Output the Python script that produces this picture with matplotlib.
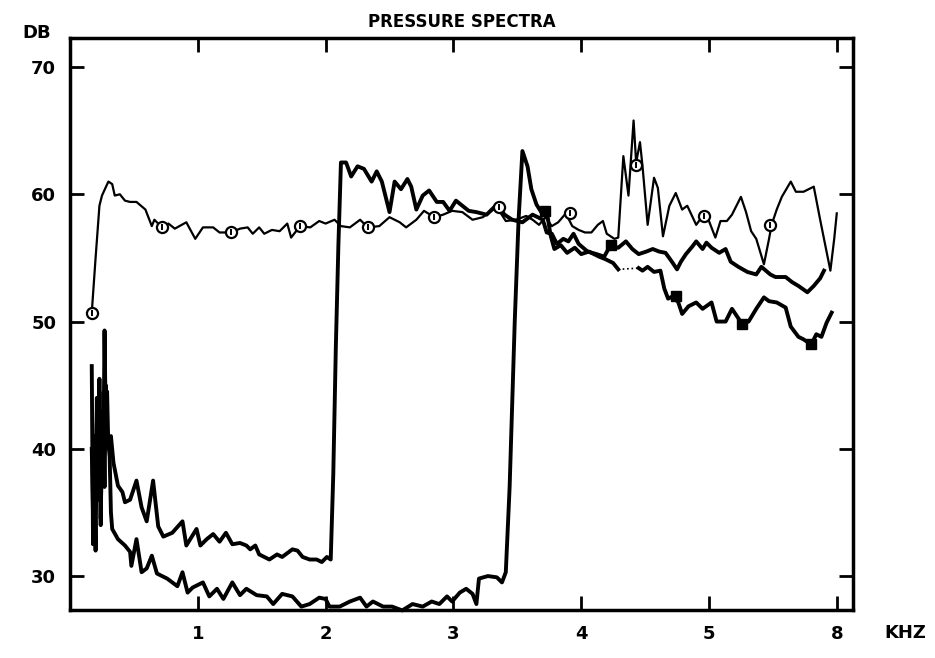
import matplotlib
matplotlib.use("Agg")
import matplotlib.pyplot as plt

# curva fina con circulos (espectro casi plano ~57 dB)
fina_x = [0.17, 0.20, 0.23, 0.25, 0.30, 0.33, 0.35, 0.39, 0.43, 0.47, 0.52, 0.59, 0.64, 0.66,
          0.72, 0.77, 0.82, 0.91, 0.98, 1.04, 1.12, 1.17, 1.26, 1.33, 1.39, 1.43, 1.48, 1.52,
          1.58, 1.64, 1.70, 1.73, 1.80, 1.88, 1.95, 2.00, 2.07, 2.12, 2.19, 2.27, 2.33, 2.42,
          2.50, 2.58, 2.63, 2.71, 2.77, 2.85, 2.92, 2.99, 3.07, 3.15, 3.23, 3.34, 3.41, 3.49,
          3.57, 3.62, 3.67, 3.72, 3.77, 3.82, 3.88, 3.93, 3.98, 4.03, 4.08, 4.13, 4.17, 4.20,
          4.26, 4.29, 4.33, 4.37, 4.41, 4.43, 4.46, 4.48, 4.52, 4.57, 4.60, 4.64, 4.69, 4.74,
          4.79, 4.83, 4.90, 4.95, 5.00, 5.05, 5.09, 5.14, 5.18, 5.25, 5.29, 5.33, 5.37, 5.43,
          5.47, 5.49, 5.53, 5.57, 5.64, 5.68, 5.74, 5.82, 5.87, 5.92, 5.95, 5.98, 6.00]
fina_y = [50.7, 55.0, 59.1, 59.9, 61.0, 60.8, 59.9, 60.0, 59.5, 59.4, 59.4, 58.8, 57.5, 58.0,
          57.4, 57.7, 57.3, 57.8, 56.5, 57.4, 57.4, 57.0, 57.0, 57.3, 57.4, 56.9, 57.4, 56.9,
          57.2, 57.1, 57.7, 56.6, 57.5, 57.4, 57.9, 57.7, 58.0, 57.5, 57.4, 58.0, 57.4, 57.5,
          58.2, 57.8, 57.4, 58.0, 58.7, 58.2, 58.4, 58.7, 58.6, 58.0, 58.2, 59.0, 57.9, 58.0,
          58.3, 58.0, 57.6, 58.2, 57.5, 57.8, 58.5, 57.5, 57.2, 57.0, 57.0, 57.6, 57.9, 56.9,
          56.5, 56.6, 63.0, 59.9, 65.8, 62.5, 64.1, 62.2, 57.6, 61.3, 60.5, 56.7, 59.1, 60.1,
          58.8, 59.1, 57.6, 58.3, 57.9, 56.6, 57.9, 57.9, 58.4, 59.8, 58.6, 57.1, 56.5, 54.5,
          56.5, 57.6, 58.8, 59.8, 61.0, 60.2, 60.2, 60.6, 58.0, 55.5, 54.0, 56.5, 58.5]

# curva gruesa que salta en 2.1 kHz
media_x = [0.17, 0.18, 0.19, 0.20, 0.21, 0.22, 0.23, 0.24, 0.25, 0.26, 0.27, 0.28, 0.29, 0.30,
           0.32, 0.34, 0.375, 0.41, 0.43, 0.47, 0.52, 0.56, 0.60, 0.65, 0.69, 0.73, 0.80, 0.88,
           0.91, 0.99, 1.02, 1.07, 1.12, 1.17, 1.22, 1.27, 1.33, 1.38, 1.41, 1.45, 1.48, 1.56,
           1.62, 1.66, 1.74, 1.78, 1.82, 1.875, 1.93, 1.97, 2.01, 2.04, 2.06, 2.08, 2.10, 2.12,
           2.16, 2.20, 2.25, 2.30, 2.36, 2.40, 2.44, 2.50, 2.54, 2.59, 2.64, 2.67, 2.71, 2.76,
           2.81, 2.87, 2.92, 2.97, 3.02, 3.07, 3.12, 3.18, 3.26, 3.34, 3.40, 3.46, 3.54, 3.62,
           3.70, 3.73, 3.77, 3.81, 3.86, 3.90, 3.94, 3.98, 4.05, 4.12, 4.18, 4.23, 4.29, 4.35,
           4.40, 4.45, 4.51, 4.56, 4.61, 4.66, 4.71, 4.75, 4.78, 4.82, 4.87, 4.90, 4.95, 4.98,
           5.02, 5.08, 5.13, 5.17, 5.23, 5.30, 5.37, 5.41, 5.48, 5.52, 5.60, 5.65, 5.70, 5.77,
           5.82, 5.87, 5.90]
media_y = [46.5, 32.5, 41.0, 35.5, 44.0, 37.5, 45.5, 34.0, 42.0, 38.0, 49.3, 41.5, 44.5, 40.0,
           41.0, 38.9, 37.1, 36.6, 35.8, 36.0, 37.5, 35.4, 34.3, 37.5, 33.9, 33.1, 33.4, 34.3,
           32.4, 33.7, 32.4, 32.9, 33.3, 32.7, 33.4, 32.5, 32.6, 32.4, 32.1, 32.4, 31.7, 31.3,
           31.7, 31.5, 32.1, 32.0, 31.5, 31.3, 31.3, 31.1, 31.5, 31.3, 38.0, 48.0, 56.0, 62.5,
           62.5, 61.4, 62.2, 62.0, 61.0, 61.8, 61.0, 58.6, 61.0, 60.4, 61.2, 60.6, 58.8, 59.9,
           60.3, 59.4, 59.4, 58.7, 59.5, 59.1, 58.7, 58.6, 58.4, 59.2, 58.4, 58.0, 57.8, 58.4,
           58.0, 57.0, 56.9, 56.1, 56.5, 56.3, 56.9, 56.1, 55.5, 55.3, 55.1, 56.0, 55.8, 56.3,
           55.7, 55.3, 55.5, 55.7, 55.5, 55.4, 54.7, 54.1, 54.7, 55.3, 55.9, 56.3, 55.7, 56.2,
           55.8, 55.4, 55.7, 54.7, 54.3, 53.9, 53.7, 54.3, 53.7, 53.5, 53.5, 53.1, 52.8, 52.3,
           52.8, 53.4, 54.0]

# curva gruesa que salta en 3.5 kHz (cuadrados)
baja_x = [0.17, 0.18, 0.19, 0.20, 0.21, 0.22, 0.23, 0.24, 0.25, 0.26, 0.27, 0.28, 0.29, 0.30,
          0.31, 0.32, 0.33, 0.375, 0.43, 0.47, 0.48, 0.52, 0.56, 0.60, 0.64, 0.68, 0.76, 0.84,
          0.88, 0.92, 0.96, 1.04, 1.09, 1.15, 1.20, 1.27, 1.33, 1.38, 1.46, 1.54, 1.59, 1.66,
          1.74, 1.81, 1.875, 1.95, 2.00, 2.03, 2.11, 2.19, 2.27, 2.32, 2.37, 2.45, 2.52, 2.60,
          2.68, 2.76, 2.83, 2.89, 2.95, 2.99, 3.05, 3.10, 3.15, 3.18, 3.20, 3.27, 3.34, 3.38,
          3.41, 3.44, 3.48, 3.51, 3.54, 3.58, 3.61, 3.65, 3.70, 3.73, 3.76, 3.79, 3.84, 3.89,
          3.95, 4.00, 4.06, 4.10, 4.14, 4.19, 4.25, 4.29]
baja_y = [40.0, 35.0, 38.5, 32.0, 42.0, 36.0, 44.5, 34.5, 40.5, 43.0, 37.0, 45.0, 41.0, 40.5,
          39.4, 35.0, 33.7, 32.9, 32.4, 31.9, 30.8, 32.9, 30.3, 30.6, 31.6, 30.2, 29.8, 29.2,
          30.3, 28.7, 29.1, 29.5, 28.4, 29.0, 28.2, 29.5, 28.5, 29.0, 28.5, 28.4, 27.8, 28.6,
          28.4, 27.6, 27.8, 28.3, 28.2, 27.6, 27.6, 28.0, 28.3, 27.6, 28.0, 27.6, 27.6, 27.3,
          27.8, 27.6, 28.0, 27.8, 28.4, 28.0, 28.7, 29.0, 28.6, 27.8, 29.8, 30.0, 29.9, 29.5,
          30.3, 37.0, 50.0, 58.0, 63.4, 62.2, 60.4, 59.2, 58.4, 58.7, 56.8, 55.7, 56.0, 55.4,
          55.8, 55.3, 55.5, 55.3, 55.1, 54.9, 54.6, 54.1]
# tramo punteado y final
punteado_x = [4.29, 4.45]
punteado_y = [54.1, 54.2]
baja2_x = [4.45, 4.48, 4.52, 4.57, 4.62, 4.65, 4.68, 4.72, 4.76, 4.79, 4.84, 4.90, 4.95, 5.02,
           5.06, 5.13, 5.18, 5.22, 5.26, 5.31, 5.37, 5.43, 5.47, 5.53, 5.60, 5.64, 5.70, 5.74,
           5.80, 5.84, 5.88, 5.92, 5.96]
baja2_y = [54.2, 54.0, 54.3, 53.9, 54.0, 52.6, 51.8, 52.0, 51.5, 50.6, 51.2, 51.5, 51.0, 51.5,
           50.0, 50.0, 51.0, 50.4, 49.8, 50.0, 51.0, 51.9, 51.6, 51.5, 51.1, 49.6, 48.8, 48.6,
           48.2, 49.0, 48.8, 49.9, 50.7]

# marcadores
circ_x = [0.17, 0.72, 1.26, 1.80, 2.33, 2.85, 3.36, 3.91, 4.43, 4.96, 5.48]
circ_y = [50.7, 57.4, 57.0, 57.5, 57.4, 58.2, 59.0, 58.5, 62.3, 58.3, 57.6]
cuad_x = [3.72, 4.23, 4.74, 5.26, 5.80]
cuad_y = [58.7, 56.0, 52.0, 49.8, 48.2]

ticks_x = [1, 2, 3, 4, 5, 6]
etiquetas_x = ["1", "2", "3", "4", "5", "8"]
ticks_y = [30, 40, 50, 60, 70]

plt.rcParams['font.family'] = ['DejaVu Sans']
plt.rcParams['font.weight'] = 'bold'

fig = plt.figure(figsize=(9.35, 6.58), dpi=100)
ax = fig.add_axes([0.0749, 0.0729, 0.8374, 0.8693])

ax.plot(fina_x, fina_y, color='black', lw=1.6)
ax.plot(media_x, media_y, color='black', lw=2.8)
ax.plot(baja_x, baja_y, color='black', lw=2.8, clip_on=False)
ax.plot(punteado_x, punteado_y, color='black', lw=1.2, ls=':')
ax.plot(baja2_x, baja2_y, color='black', lw=2.8)
ax.plot(circ_x, circ_y, ls='none', marker='o', ms=8, mfc='white', mec='black', mew=1.6)
ax.plot(circ_x, circ_y, ls='none', marker='|', ms=5, color='black', mew=1.4)
ax.plot(cuad_x, cuad_y, ls='none', marker='s', ms=7, color='black')

ax.set_xlim(0, 6.127)
ax.set_ylim(27.33, 72.28)
ax.set_xticks(ticks_x)
ax.set_xticklabels(etiquetas_x)
ax.set_yticks(ticks_y)
ax.tick_params(direction='in', length=10, width=2, labelsize=13,
               top=True, right=True)
ax.tick_params(axis='x', pad=11)
ax.tick_params(axis='y', pad=10)
for s in ax.spines.values():
    s.set_linewidth(2.5)

ax.set_title("PRESSURE SPECTRA", fontsize=12, fontweight='bold', pad=8)
fig.text(37 / 935, 1 - 33 / 658, "DB", fontsize=13, fontweight='bold', ha='center', va='center')
fig.text(905 / 935, 1 - 633 / 658, "KHZ", fontsize=13, fontweight='bold', ha='center', va='center')

fig.savefig("out.png", dpi=100)
